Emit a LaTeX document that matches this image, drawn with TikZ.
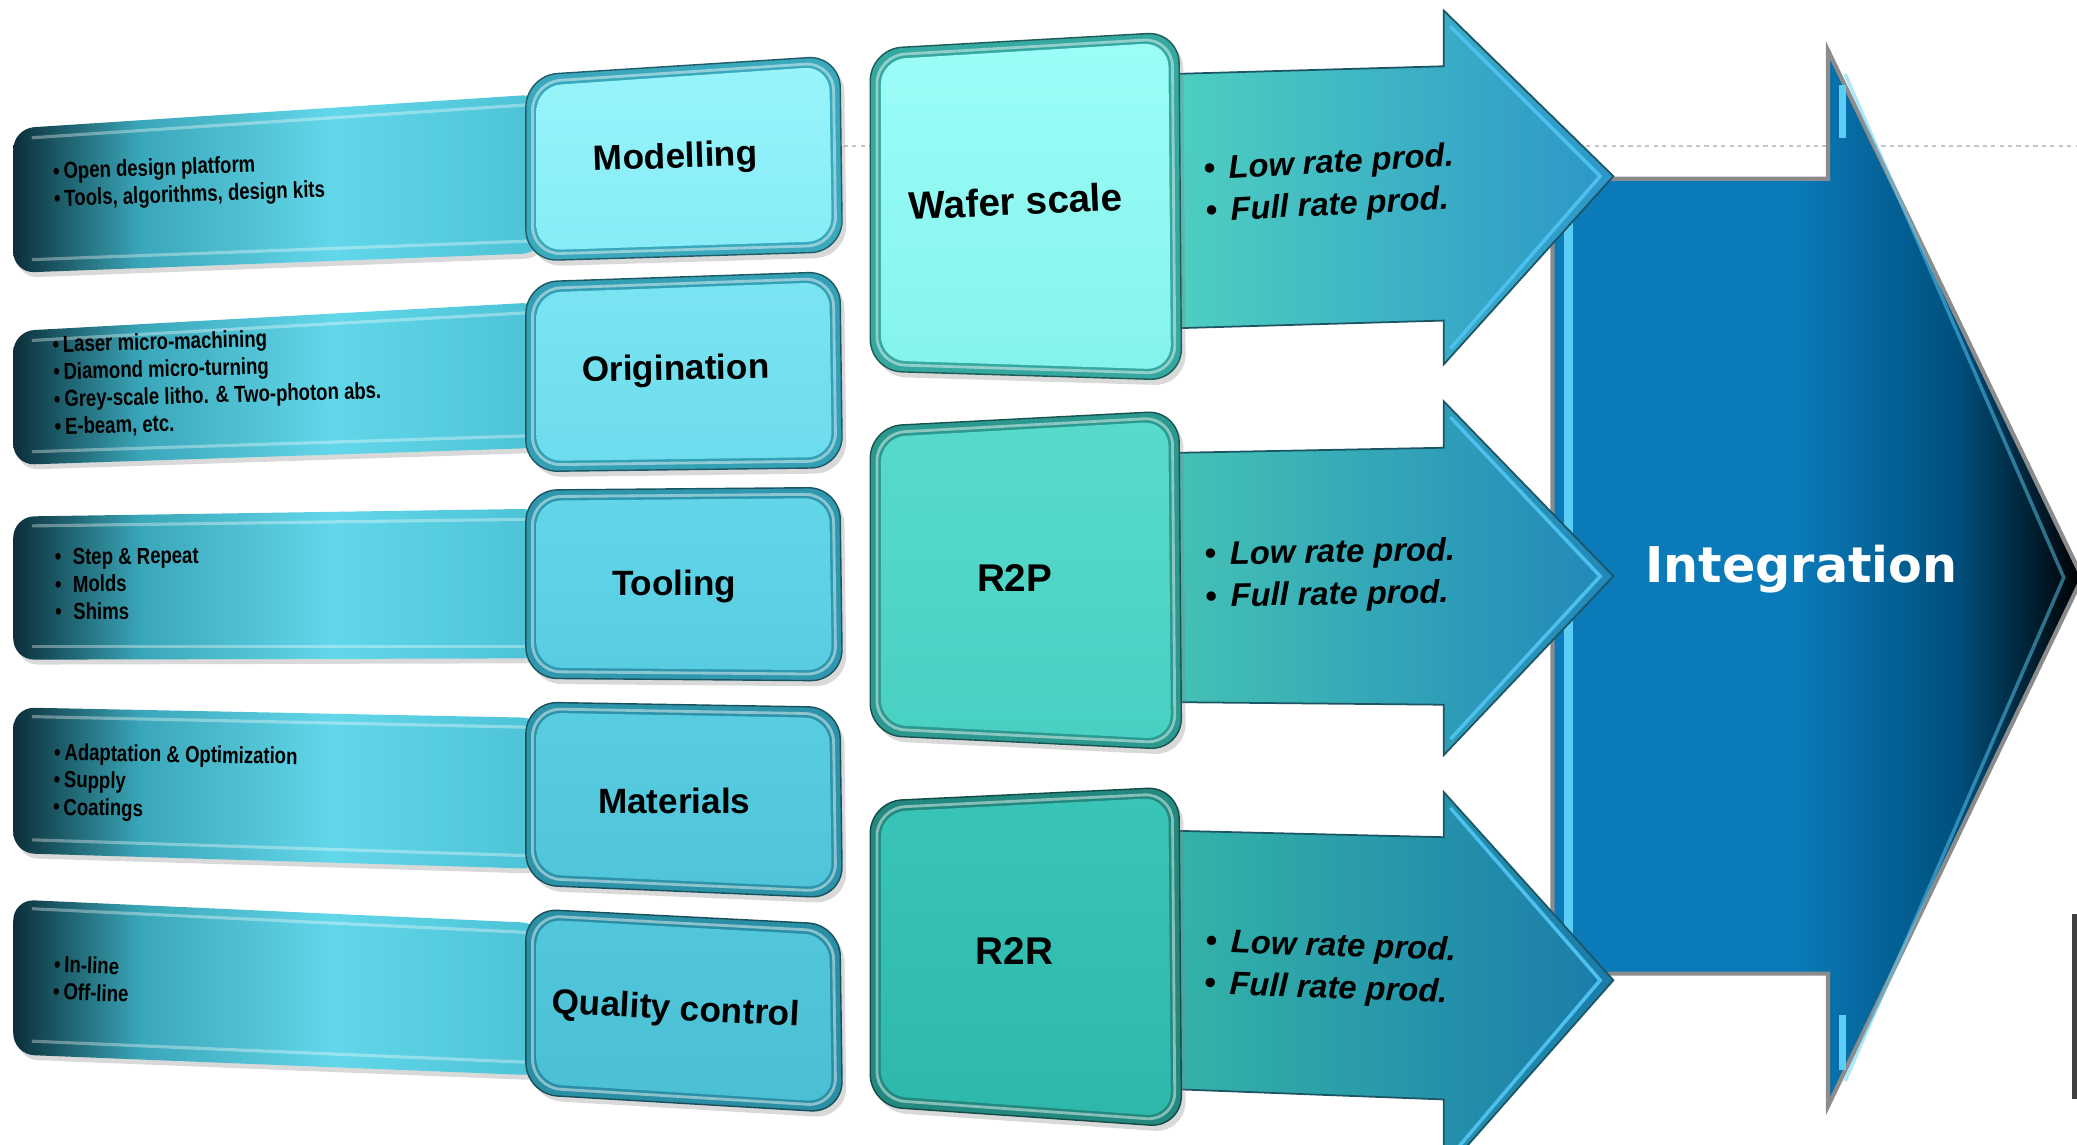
\documentclass[tikz,border=0pt]{standalone}
\usepackage{xcolor}
\usepackage{fontspec}
\setmainfont{Liberation Sans}
\newfontfamily\narrowsans[FakeStretch=0.8]{Liberation Sans}
\newfontfamily\widesans{DejaVu Sans}
\usepackage{tikz}
\usetikzlibrary{calc,shadows}
\definecolor{BarDark}{HTML}{0B2F39}
\definecolor{BarMid}{HTML}{3AA6B9}
\definecolor{BarLight}{HTML}{62D7E9}
\definecolor{BarEnd}{HTML}{4CC2D6}
\definecolor{ModTop}{HTML}{98F4FB}
\definecolor{ModBot}{HTML}{86ECF7}
\definecolor{ModEdge}{HTML}{3AA9BD}
\definecolor{OriTop}{HTML}{7AE4F2}
\definecolor{OriBot}{HTML}{6DDCEC}
\definecolor{OriEdge}{HTML}{34A0B6}
\definecolor{TooTop}{HTML}{62D6E8}
\definecolor{TooBot}{HTML}{58CDE2}
\definecolor{TooEdge}{HTML}{2F98AE}
\definecolor{MatTop}{HTML}{58CCE0}
\definecolor{MatBot}{HTML}{50C5DA}
\definecolor{MatEdge}{HTML}{2C93A9}
\definecolor{QcTop}{HTML}{52C6DB}
\definecolor{QcBot}{HTML}{4BBFD4}
\definecolor{QcEdge}{HTML}{2A8FA5}
\definecolor{WafTop}{HTML}{9CFDF7}
\definecolor{WafBot}{HTML}{84F3EC}
\definecolor{WafEdge}{HTML}{35A89F}
\definecolor{RpTop}{HTML}{58DACB}
\definecolor{RpBot}{HTML}{48D0C2}
\definecolor{RpEdge}{HTML}{2B998F}
\definecolor{RrTop}{HTML}{38C4B7}
\definecolor{RrBot}{HTML}{2DB8AB}
\definecolor{RrEdge}{HTML}{23897F}
\definecolor{ArrLine}{HTML}{1B5566}
\definecolor{ArrGlow}{HTML}{4EC0EE}
\definecolor{WafArrL}{HTML}{4FD0C0}
\definecolor{WafArrR}{HTML}{2C96C9}
\definecolor{RpArrL}{HTML}{45C3B5}
\definecolor{RpArrR}{HTML}{2187BA}
\definecolor{RrArrL}{HTML}{35B5A9}
\definecolor{RrArrR}{HTML}{1A7BAA}
\definecolor{BigBlue}{HTML}{0A7AB8}
\definecolor{BigDeep}{HTML}{00507E}
\definecolor{BigRim}{HTML}{8C8C8C}
\definecolor{BigGlow}{HTML}{5CCDF7}
\definecolor{GridGray}{HTML}{C4C4C4}
\pgfdeclarehorizontalshading{barshade}{100bp}{color(0bp)=(BarDark); color(25bp)=(BarDark); color(37bp)=(BarMid); color(55bp)=(BarLight); color(75bp)=(BarEnd); color(100bp)=(BarEnd)}
\pgfdeclarehorizontalshading{bigshade}{100bp}{color(0bp)=(BigBlue); color(25bp)=(BigBlue); color(48bp)=(BigBlue); color(63bp)=(BigDeep); color(75bp)=(black); color(100bp)=(black)}
% bevelled quadrilateral: corners TL, TR, BR, BL, face shading, rim colour
\newcommand{\bevelquad}[6]{%
  \filldraw[fill=#6,draw=#6!55!black,line width=.4pt,rounded corners=9pt,
    drop shadow={shadow xshift=1.2pt,shadow yshift=-1.6pt,opacity=.3}]
    #1 -- #2 -- #3 -- #4 -- cycle;
  \shade[#5,rounded corners=7pt] ($#1+(8,8)$) -- ($#2+(-8,8)$) -- ($#3+(-8,-8)$) -- ($#4+(8,-8)$) -- cycle;
  \draw[white,opacity=.45,line width=.8pt,rounded corners=8pt]
    ($#1+(5,5)$) -- ($#2+(-5,5)$) -- ($#3+(-5,-5)$) -- ($#4+(5,-5)$) -- cycle;}
\begin{document}
\begin{tikzpicture}[x=0.013246cm,y=-0.013246cm,
  bartext/.style={anchor=west,align=left,inner sep=0pt,font=\narrowsans\bfseries\fontsize{6.6}{7.8}\selectfont},
  boxlabel/.style={font=\bfseries\fontsize{10}{12}\selectfont},
  stagelabel/.style={font=\bfseries\fontsize{11}{13}\selectfont},
  ratetext/.style={anchor=west,align=left,inner sep=0pt,font=\bfseries\itshape\fontsize{9.3}{12}\selectfont},
  barglow/.style={white,opacity=.35,line width=.9pt},
  arrowedge/.style={draw=ArrLine,line width=.5pt}]
\path[use as bounding box] (0,0) rectangle (1568,864);
\clip (0,0) rectangle (1568,864);
\draw[GridGray,line width=.5pt,dash pattern=on 1.2pt off 1.2pt] (637,110) -- (1568,110);

% integration arrow
\shade[shading=bigshade,draw=BigRim,line width=1.2pt]
  (1172,135) -- (1380,135) -- (1380,38) -- (1572,436) -- (1380,835) -- (1380,735) -- (1172,735) -- cycle;
\draw[BigGlow,line width=2.5pt] (1184,145) -- (1184,725);
\draw[BigGlow,line width=2pt] (1391,64) -- (1391,104);
\draw[BigGlow,line width=2pt] (1391,766) -- (1391,808);
\draw[BigGlow,opacity=.5,line width=1pt] (1393,56) -- (1558,436) -- (1393,816);
\node[font=\widesans\bfseries\fontsize{14}{16}\selectfont,text=white] (integ) at (1360,430) {Integration};
\fill[black!75] (1564,690) rectangle (1568,830);

% process bars
\shade[shading=barshade,rounded corners=6pt,drop shadow={shadow xshift=1pt,shadow yshift=-1.4pt,opacity=.3}]
  (10,97) -- (410,71) -- (410,191) -- (10,206) -- cycle;
\draw[barglow] (24,104) -- (400,79);
\draw[barglow] (24,196) -- (400,182);
\shade[shading=barshade,rounded corners=6pt,drop shadow={shadow xshift=1pt,shadow yshift=-1.4pt,opacity=.3}]
  (10,250) -- (410,228) -- (410,338) -- (10,351) -- cycle;
\draw[barglow] (24,257) -- (400,236);
\draw[barglow] (24,341) -- (400,329);
\shade[shading=barshade,rounded corners=6pt,drop shadow={shadow xshift=1pt,shadow yshift=-1.4pt,opacity=.3}]
  (10,390) -- (410,384) -- (410,497) -- (10,498) -- cycle;
\draw[barglow] (24,397) -- (400,392);
\draw[barglow] (24,488) -- (400,488);
\shade[shading=barshade,rounded corners=6pt,drop shadow={shadow xshift=1pt,shadow yshift=-1.4pt,opacity=.3}]
  (10,534) -- (410,542) -- (410,656) -- (10,644) -- cycle;
\draw[barglow] (24,541) -- (400,549);
\draw[barglow] (24,634) -- (400,646);
\shade[shading=barshade,rounded corners=6pt,drop shadow={shadow xshift=1pt,shadow yshift=-1.4pt,opacity=.3}]
  (10,679) -- (410,697) -- (410,812) -- (10,796) -- cycle;
\draw[barglow] (24,686) -- (400,704);
\draw[barglow] (24,786) -- (400,802);

\node[bartext,rotate=2] (modtext) at (40,141) {\textbullet\,Open design platform\\\textbullet\,Tools, algorithms, design kits};
\node[bartext,rotate=1.5] (oritext) at (40,292) {\textbullet\,Laser micro-machining\\\textbullet\,Diamond micro-turning\\\textbullet\,Grey-scale litho. \& Two-photon abs.\\\textbullet\,E-beam, etc.};
\node[bartext,rotate=.5] (tootext) at (41,441) {\textbullet\enspace Step \& Repeat\\\textbullet\enspace Molds\\\textbullet\enspace Shims};
\node[bartext,rotate=-1] (mattext) at (40,590) {\textbullet\,Adaptation \& Optimization\\\textbullet\,Supply\\\textbullet\,Coatings};
\node[bartext,rotate=-2] (qctext) at (40,738) {\textbullet\,In-line\\\textbullet\,Off-line};

% process boxes
\bevelquad{(397,57)}{(634,42)}{(636,190)}{(397,197)}{top color=ModTop,bottom color=ModBot}{ModEdge}
\bevelquad{(397,213)}{(634,205)}{(636,353)}{(397,356)}{top color=OriTop,bottom color=OriBot}{OriEdge}
\bevelquad{(397,370)}{(634,368)}{(636,514)}{(397,512)}{top color=TooTop,bottom color=TooBot}{TooEdge}
\bevelquad{(397,530)}{(634,534)}{(636,678)}{(397,668)}{top color=MatTop,bottom color=MatBot}{MatEdge}
\bevelquad{(397,686)}{(634,698)}{(636,840)}{(397,826)}{top color=QcTop,bottom color=QcBot}{QcEdge}
\node[boxlabel,rotate=2] (modelling) at (510,120) {Modelling};
\node[boxlabel,rotate=1] (origination) at (510,280) {Origination};
\node[boxlabel] (tooling) at (509,443) {Tooling};
\node[boxlabel] (materials) at (509,605) {Materials};
\node[boxlabel,rotate=-3] (quality) at (510,763) {Quality control};

% production arrows
\shade[left color=WafArrL,right color=WafArrR,arrowedge]
  (880,56) -- (1090,50) -- (1090,8) -- (1218,133) -- (1090,275) -- (1090,242) -- (880,248) -- cycle;
\draw[ArrGlow,line width=1pt] (1095,20) -- (1208,133) -- (1095,263);
\shade[left color=RpArrL,right color=RpArrR,arrowedge]
  (880,342) -- (1090,338) -- (1090,303) -- (1218,435) -- (1090,570) -- (1090,532) -- (880,530) -- cycle;
\draw[ArrGlow,line width=1pt] (1095,315) -- (1208,435) -- (1095,558);
\shade[left color=RrArrL,right color=RrArrR,arrowedge]
  (880,627) -- (1090,632) -- (1090,598) -- (1218,740) -- (1090,885) -- (1090,830) -- (880,822) -- cycle;
\draw[ArrGlow,line width=1pt] (1095,610) -- (1208,740) -- (1095,873);
\node[ratetext,rotate=3] (waferrate) at (909,145) {\textbullet\hspace{4pt}Low rate prod.\\\textbullet\hspace{4pt}Full rate prod.};
\node[ratetext,rotate=1] (rtoprate) at (909,436) {\textbullet\hspace{4pt}Low rate prod.\\\textbullet\hspace{4pt}Full rate prod.};
\node[ratetext,rotate=-2] (rtorrate) at (909,728) {\textbullet\hspace{4pt}Low rate prod.\\\textbullet\hspace{4pt}Full rate prod.};

% production stages
\bevelquad{(657,37)}{(890,24)}{(892,287)}{(657,280)}{top color=WafTop,bottom color=WafBot}{WafEdge}
\bevelquad{(657,322)}{(890,310)}{(892,566)}{(657,555)}{top color=RpTop,bottom color=RpBot}{RpEdge}
\bevelquad{(657,605)}{(890,594)}{(892,851)}{(657,835)}{top color=RrTop,bottom color=RrBot}{RrEdge}
\node[stagelabel,rotate=2.5] (wafer) at (767,152) {Wafer scale};
\node[stagelabel] (rtop) at (766,436) {R2P};
\node[stagelabel] (rtor) at (766,718) {R2R};
\end{tikzpicture}
\end{document}
